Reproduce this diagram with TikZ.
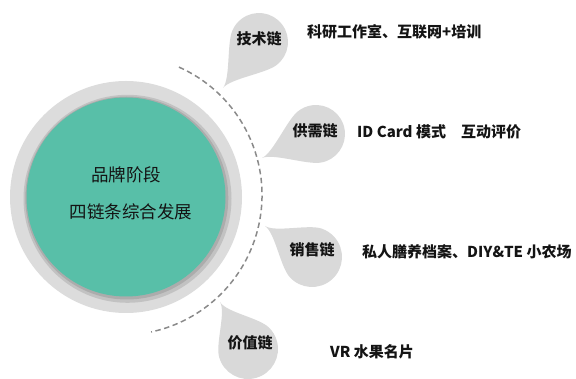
\documentclass[tikz,border=0pt]{standalone}
\usepackage{fontspec}
\setmainfont{Noto Sans CJK SC}
\usetikzlibrary{calc}
\definecolor{ringgray}{HTML}{DCDCDC}
\definecolor{dropgray}{HTML}{D9D9D9}
\definecolor{tealfill}{HTML}{58BFA8}
\definecolor{dashgray}{HTML}{8A8A8A}
\definecolor{txt}{HTML}{141414}
\newcommand\teardrop[3]{%
  \fill[dropgray] let \p1=($(#3)-(#1)$), \n1={atan2(\y1,\x1)} in
    ($(#1)+(\n1+75:#2pt)$) arc[start angle=\n1+75, end angle=\n1+285, radius=#2pt]
    .. controls +(\n1+15:14pt) and +(\n1+180:12pt) .. (#3)
    .. controls +(\n1+180:12pt) and +(\n1-15:14pt) .. ($(#1)+(\n1+75:#2pt)$) -- cycle;}
\begin{document}
\begin{tikzpicture}[x=1pt,y=1pt,
  lbl/.style={font=\fontsize{15}{18}\selectfont\bfseries, text=txt, inner sep=0pt},
  desc/.style={font=\fontsize{15}{18}\selectfont\bfseries, text=txt, inner sep=0pt, anchor=west},
  ctext/.style={font=\fontsize{17.5}{20}\selectfont, text=txt, inner sep=0pt}]
\useasboundingbox (0,0) rectangle (576,-379);
% central circle
\coordinate (ctr) at (126,-197);
\fill[ringgray] (ctr) circle[radius=116];
\fill[ringgray!88!black] ($(ctr)+(1.5,-1.8)$) circle[radius=104];
\fill[ringgray!78!black] ($(ctr)+(0.8,-1)$) circle[radius=101.5];
\fill[tealfill] (ctr) circle[radius=99.5];
\node[ctext] (t1) at (126,-175) {品牌阶段};
\node[ctext] (t2) at (131,-212) {四链条综合发展};
% dashed arc
\coordinate (actr) at (122,-195);
\draw[dashgray, line width=1.5pt, dash pattern=on 5.5pt off 3.5pt]
  (actr) ++(66:140) arc[start angle=66, end angle=-78, radius=140];
% drops
\coordinate (c1) at (259,-42);  \coordinate (p1) at (223,-88);
\coordinate (c2) at (316,-134); \coordinate (p2) at (262,-158);
\coordinate (c3) at (312,-257); \coordinate (p3) at (265,-226);
\coordinate (c4) at (248,-349); \coordinate (p4) at (220,-302);
\teardrop{c1}{29}{p1}
\teardrop{c2}{29}{p2}
\teardrop{c3}{30}{p3}
\teardrop{c4}{30}{p4}
\node[lbl] (l1) at (259,-39) {技术链};
\node[lbl] (l2) at (315,-131) {供需链};
\node[lbl] (l3) at (312,-250) {销售链};
\node[lbl] (l4) at (250,-343) {价值链};
% descriptions
\node[desc] (d1) at (307,-32) {科研工作室、互联网+培训};
\node[desc] (d2) at (357,-132) {ID Card 模式\quad 互动评价};
\node[desc] (d3) at (362,-252) {私人膳养档案、DIY\&TE 小农场};
\node[desc] (d4) at (330,-352) {VR 水果名片};
\end{tikzpicture}
\end{document}
